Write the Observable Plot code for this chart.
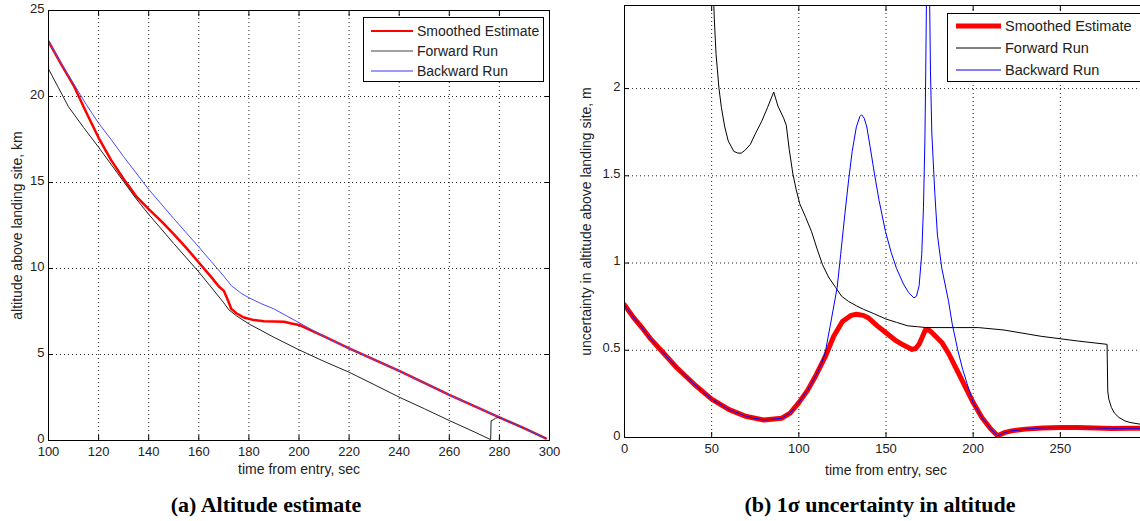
<!DOCTYPE html>
<html>
<head>
<meta charset="utf-8">
<script src="https://cdn.jsdelivr.net/npm/d3@7"></script>
<script src="https://cdn.jsdelivr.net/npm/@observablehq/plot@0.6"></script>
<style>
  html, body { margin: 0; padding: 0; background: #fff; }
  #wrap { position: relative; width: 1140px; height: 521px; overflow: hidden; background: #fff; }
  #wrap svg { max-width: none !important; }
  .panel { position: absolute; top: 0; }
  .legend { position: absolute; background: #fff; border: 1px solid #000; font-family: "Liberation Sans", Arial, sans-serif; font-size: 14px; color: #222; }
  .legend .row { position: absolute; left: 0; height: 16px; display: flex; align-items: center; white-space: nowrap; }
  .caption { position: absolute; top: 492px; font-family: "Liberation Serif", "Times New Roman", serif; font-weight: bold; font-size: 22px; color: #000; transform: translateX(-50%); white-space: nowrap; }
</style>
</head>
<body>
<div id="wrap"></div>
<script>
// ---------------- DATA ----------------
const seriesNames = ["Smoothed Estimate", "Forward Run", "Backward Run"];
const xTitle = "time from entry, sec";

// Panel (a): altitude above landing site, km
const aYTitle = "altitude above landing site, km";
const aTicksX = [100, 120, 140, 160, 180, 200, 220, 240, 260, 280, 300];
const aTicksY = [0, 5, 10, 15, 20, 25];

const aSmoothT = [100, 105, 110, 115, 120, 125, 130, 135, 140, 145, 150, 155, 160, 165, 168, 170, 171.5, 173, 175, 178, 182, 186, 190, 194, 197, 200, 210, 220, 230, 240, 250, 260, 270, 280, 290, 298.5];
const aSmoothV = [23.2, 21.9, 20.65, 19.1, 17.6, 16.3, 15.2, 14.2, 13.45, 12.75, 12.0, 11.2, 10.35, 9.5, 8.95, 8.7, 8.2, 7.65, 7.4, 7.15, 7.0, 6.93, 6.92, 6.9, 6.8, 6.72, 6.05, 5.35, 4.7, 4.05, 3.35, 2.65, 2.0, 1.35, 0.7, 0.12];

const aForwardT = [100, 104, 108, 114, 120, 130, 135, 140, 150, 160, 170, 172, 175, 180, 190, 200, 210, 220, 230, 240, 250, 260, 270, 276.5, 276.7, 277.5, 278.5, 280, 290, 298.5];
const aForwardV = [21.6, 20.5, 19.4, 18.2, 17.05, 15.05, 14.05, 13.15, 11.45, 9.8, 8.0, 7.6, 7.25, 6.78, 6.0, 5.27, 4.6, 3.97, 3.25, 2.52, 1.85, 1.16, 0.5, 0.05, 1.15, 1.2, 1.3, 1.35, 0.7, 0.12];

const aBackwardT = [100, 105, 110, 115, 120, 125, 130, 140, 150, 160, 165, 170, 173, 177, 180, 185, 190, 195, 200, 210, 220, 230, 240, 250, 260, 270, 280, 290, 298.5];
const aBackwardV = [23.2, 21.95, 20.75, 19.55, 18.45, 17.5, 16.5, 14.6, 12.9, 11.25, 10.4, 9.55, 9.0, 8.55, 8.3, 7.95, 7.65, 7.25, 6.85, 6.05, 5.35, 4.7, 4.05, 3.35, 2.65, 2.0, 1.35, 0.7, 0.12];

// Panel (b): 1-sigma uncertainty in altitude, m
const bYTitle = "uncertainty in altitude above landing site, m";
const bTicksX = [0, 50, 100, 150, 200, 250];
const bTicksY = [0, 0.5, 1, 1.5, 2];

const bSmoothT = [0, 5, 10, 15, 20, 30, 40, 50, 60, 70, 80, 90, 95, 100, 105, 110, 115, 120, 125, 130, 133, 137, 140, 145, 150, 155, 160, 165, 167, 169, 171, 172.5, 174, 176, 178, 182, 186, 190, 195, 200, 205, 210, 214, 218, 222, 230, 240, 250, 260, 270, 280, 290, 300];
const bSmoothV = [0.76, 0.69, 0.63, 0.565, 0.51, 0.4, 0.305, 0.22, 0.16, 0.12, 0.1, 0.11, 0.14, 0.2, 0.27, 0.36, 0.46, 0.58, 0.665, 0.7, 0.706, 0.7, 0.685, 0.64, 0.6, 0.56, 0.53, 0.505, 0.51, 0.535, 0.58, 0.615, 0.62, 0.605, 0.585, 0.545, 0.48, 0.4, 0.3, 0.2, 0.115, 0.05, 0.01, 0.028, 0.038, 0.048, 0.055, 0.057, 0.057, 0.055, 0.052, 0.053, 0.053];

const bForwardT = [50.5, 51.5, 52.5, 54.2, 55.6, 57.5, 59.5, 62.7, 65, 67, 69, 72.2, 75, 78.6, 82, 85.6, 88, 91.3, 92.8, 94.5, 96.6, 98.5, 100.5, 104, 107.3, 110.5, 113.6, 117, 121.1, 124.5, 128.5, 133, 137, 143, 149.7, 156, 162.5, 168, 173, 190, 203, 217.7, 239, 260, 276.8, 277.2, 277.8, 279.3, 281, 283.6, 287, 290, 296, 300];
const bForwardV = [2.7, 2.4, 2.2, 2.0, 1.89, 1.78, 1.7, 1.64, 1.63, 1.63, 1.645, 1.68, 1.74, 1.81, 1.89, 1.98, 1.9, 1.83, 1.79, 1.65, 1.51, 1.42, 1.34, 1.26, 1.18, 1.08, 0.99, 0.92, 0.86, 0.81, 0.78, 0.755, 0.735, 0.71, 0.68, 0.66, 0.64, 0.635, 0.63, 0.63, 0.63, 0.616, 0.58, 0.553, 0.534, 0.267, 0.22, 0.172, 0.14, 0.115, 0.095, 0.086, 0.076, 0.073];

const bBackwardT = [0, 5, 10, 15, 20, 30, 40, 50, 60, 70, 80, 90, 95, 100, 105, 110, 112, 115, 118, 122, 124, 126.4, 128.5, 130.6, 133, 135, 136, 137.5, 139, 141, 143.4, 146, 149.7, 153, 156, 160, 163, 166, 167.5, 169, 170.5, 171.5, 172.3, 172.8, 173.4, 174.8, 175.5, 176.3, 178, 179.5, 182, 185.9, 188, 191.2, 194, 196.5, 200, 205, 210, 214, 218, 222, 230, 240, 250, 260, 270, 280, 290, 300];
const bBackwardV = [0.76, 0.69, 0.63, 0.565, 0.51, 0.4, 0.305, 0.22, 0.16, 0.12, 0.1, 0.11, 0.14, 0.2, 0.27, 0.36, 0.4, 0.48, 0.64, 0.86, 1.05, 1.28, 1.47, 1.64, 1.78, 1.84, 1.85, 1.83, 1.78, 1.66, 1.51, 1.36, 1.18, 1.06, 0.97, 0.88, 0.83, 0.8, 0.81, 0.87, 1.05, 1.32, 1.7, 2.1, 2.7, 2.7, 2.1, 1.74, 1.4, 1.16, 0.97, 0.78, 0.65, 0.5, 0.39, 0.31, 0.2, 0.115, 0.05, 0.01, 0.028, 0.038, 0.048, 0.055, 0.057, 0.057, 0.055, 0.052, 0.053, 0.053];

// ---------------- HELPERS ----------------
const toRows = (T, V) => T.map((t, i) => ({t, v: V[i]}));
const FONT = '"Liberation Sans", Arial, sans-serif';
const wrap = document.getElementById("wrap");
const fmt = d => String(d);

function panel(cfg) {
  const chart = Plot.plot({
    width: cfg.width, height: 480,
    marginLeft: cfg.ml, marginRight: cfg.mr, marginTop: cfg.mt, marginBottom: cfg.mb,
    x: {domain: cfg.xDomain},
    y: {domain: cfg.yDomain},
    style: {fontFamily: FONT, fontSize: "13px", color: "#222", background: "transparent", overflow: "visible"},
    marks: [
      Plot.gridX(cfg.ticksX, {stroke: "#000", strokeOpacity: 0.85, strokeDasharray: "1,3"}),
      Plot.gridY(cfg.ticksY, {stroke: "#000", strokeOpacity: 0.85, strokeDasharray: "1,3"}),
      Plot.line(cfg.smooth, {x: "t", y: "v", stroke: "#ff0000", strokeWidth: cfg.redW, clip: true}),
      Plot.line(cfg.forward, {x: "t", y: "v", stroke: cfg.black, strokeWidth: 1, clip: true}),
      Plot.line(cfg.backward, {x: "t", y: "v", stroke: cfg.blue, strokeWidth: 1, clip: true}),
      Plot.frame({stroke: "#000", strokeWidth: 1}),
      // inward tick marks on all four sides
      Plot.axisX(cfg.ticksX, {anchor: "bottom", tickSize: -5, stroke: "#000", fill: "none", label: null}),
      Plot.axisX(cfg.ticksX, {anchor: "top", tickSize: -5, stroke: "#000", fill: "none", label: null}),
      Plot.axisY(cfg.ticksY, {anchor: "left", tickSize: -5, stroke: "#000", fill: "none", label: null}),
      Plot.axisY(cfg.ticksY, {anchor: "right", tickSize: -5, stroke: "#000", fill: "none", label: null}),
      // tick labels
      Plot.axisX(cfg.ticksX, {anchor: "bottom", tickSize: 0, tickPadding: 6, tickFormat: fmt, fontSize: 13, fill: "#222", label: null}),
      Plot.axisY(cfg.ticksY, {anchor: "left", tickSize: 0, tickPadding: 4, dy: -2, tickFormat: fmt, fontSize: 13, fill: "#222", label: null}),
      // axis titles
      Plot.text([xTitle], {frameAnchor: "bottom", dy: cfg.xTitleDy, fontSize: 14, fill: "#222", lineAnchor: "middle"}),
      Plot.text([cfg.yTitle], {frameAnchor: "left", dx: cfg.yTitleDx, rotate: -90, fontSize: 14, fill: "#222", lineAnchor: "middle", textAnchor: "middle"})
    ]
  });
  const div = document.createElement("div");
  div.className = "panel";
  div.style.left = cfg.left + "px";
  div.style.width = cfg.width + "px";
  div.appendChild(chart);
  wrap.appendChild(div);
}

function legend(cfg) {
  const box = document.createElement("div");
  box.className = "legend";
  Object.assign(box.style, {left: cfg.left + "px", top: cfg.top + "px", width: cfg.w + "px", height: cfg.h + "px", fontSize: cfg.fs + "px"});
  seriesNames.forEach((name, i) => {
    const row = document.createElement("div");
    row.className = "row";
    row.style.top = (cfg.rowTop + i * cfg.rowGap - 8) + "px";
    row.style.left = cfg.lineX + "px";
    const svg = d3.create("svg").attr("width", cfg.lineW).attr("height", 16).style("display", "block");
    svg.append("line").attr("x1", 0).attr("x2", cfg.lineW).attr("y1", 8).attr("y2", 8)
      .attr("stroke", cfg.colors[i]).attr("stroke-width", cfg.widths[i]);
    row.appendChild(svg.node());
    const span = document.createElement("span");
    span.textContent = name;
    span.style.marginLeft = cfg.gap + "px";
    row.appendChild(span);
    box.appendChild(row);
  });
  wrap.appendChild(box);
}

function caption(text, cx) {
  const c = document.createElement("div");
  c.className = "caption";
  c.style.left = cx + "px";
  c.textContent = text;
  wrap.appendChild(c);
}

// ---------------- PANEL (a) ----------------
panel({
  left: 0, width: 560, ml: 48, mr: 11, mt: 10, mb: 40,
  xDomain: [100, 300], yDomain: [0, 25], ticksX: aTicksX, ticksY: aTicksY,
  smooth: toRows(aSmoothT, aSmoothV), forward: toRows(aForwardT, aForwardV), backward: toRows(aBackwardT, aBackwardV),
  redW: 2.5, black: "#222", blue: "#4a4aff",
  yTitle: aYTitle, xTitleDy: 29, yTitleDx: -31
});
legend({left: 363, top: 17, w: 179, h: 63, lineX: 7, lineW: 42, gap: 4, rowTop: 13, rowGap: 20, fs: 14,
  colors: ["#ff0000", "#444", "#7777ff"], widths: [2, 1.2, 1.5]});

// ---------------- PANEL (b) ----------------
panel({
  left: 560, width: 600, ml: 64, mr: 13, mt: 5, mb: 43,
  xDomain: [0, 300], yDomain: [0, 2.476], ticksX: bTicksX, ticksY: bTicksY,
  smooth: toRows(bSmoothT, bSmoothV), forward: toRows(bForwardT, bForwardV), backward: toRows(bBackwardT, bBackwardV),
  redW: 5, black: "#000", blue: "#0000ff",
  yTitle: bYTitle, xTitleDy: 33, yTitleDx: -38
});
legend({left: 947, top: 13, w: 220, h: 67, lineX: 8, lineW: 45, gap: 4, rowTop: 12, rowGap: 22, fs: 14.5,
  colors: ["#ff0000", "#000", "#0000ff"], widths: [5, 1, 1]});

caption("(a) Altitude estimate", 266);
caption("(b) 1σ uncertainty in altitude", 880);
</script>
</body>
</html>
